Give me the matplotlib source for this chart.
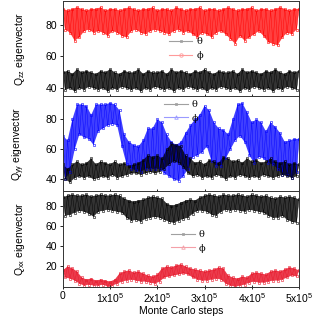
import numpy as np
import matplotlib
matplotlib.use("Agg")
import matplotlib.pyplot as plt
from matplotlib.lines import Line2D

plt.rcParams["font.family"] = "Liberation Sans"
plt.rcParams["mathtext.default"] = "regular"

# %%
# ---- data: upper / lower edge of each noisy band ----
# upper edge at 0, 1e4, ... 5e5 steps; lower edge at 5e3, 1.5e4, ... 4.95e5
steps = np.arange(0, 500001, 10000)

# Q_zz panel
zz_phi_hi = [90, 89, 90, 91, 90, 89, 90, 90, 91, 89, 90, 90, 89, 90, 91, 90, 89, 90,
             90, 91, 89, 90, 90, 89, 91, 90, 89, 90, 90, 91, 89, 90, 90, 89, 90, 91,
             90, 89, 90, 90, 91, 89, 90, 90, 89, 90, 91, 90, 89, 90, 90]
zz_phi_lo = [77, 75, 70, 72, 76, 77, 75, 76, 75, 73, 76, 75, 73, 72, 76, 77, 75, 74,
             76, 77, 76, 75, 74, 76, 77, 75, 76, 74, 72, 75, 74, 72, 75, 76, 74, 71,
             68, 73, 70, 72, 74, 76, 73, 69, 68, 67, 72, 75, 74, 77]
zz_theta_hi = [50, 51, 49, 52, 50, 51, 50, 49, 51, 50, 52, 50, 49, 51, 50, 50, 52, 49,
               51, 50, 50, 51, 49, 52, 50, 51, 50, 49, 51, 50, 52, 50, 49, 51, 50, 50,
               51, 49, 52, 50, 51, 50, 49, 51, 50, 52, 50, 49, 51, 50, 51]
zz_theta_lo = [39, 40, 38, 40, 39, 41, 40, 39, 40, 38, 40, 39, 41, 40, 39, 40, 38, 40,
               39, 41, 40, 39, 40, 38, 40, 39, 41, 40, 39, 40, 38, 40, 39, 41, 40, 39,
               40, 38, 40, 39, 41, 40, 39, 40, 38, 40, 39, 41, 40, 39]

# Q_yy panel
yy_phi_hi = [69, 66, 80, 90, 90, 89, 83, 90, 90, 90, 91, 90, 86, 70, 65, 63, 62, 66,
             74, 74, 80, 78, 70, 65, 63, 65, 71, 76, 80, 83, 89, 86, 78, 74, 73, 70,
             80, 90, 91, 85, 78, 80, 78, 72, 78, 75, 71, 65, 66, 67, 67]
yy_phi_lo = [40, 45, 60, 70, 68, 67, 63, 72, 74, 76, 77, 76, 62, 50, 47, 46, 45, 47,
             47, 47, 47, 44, 42, 40, 39, 42, 47, 55, 56, 58, 62, 52, 49, 49, 54, 60,
             66, 69, 65, 56, 51, 55, 54, 51, 50, 47, 43, 43, 41, 45]
yy_theta_hi = [50, 47, 50, 52, 50, 51, 54, 50, 52, 51, 50, 52, 50, 51, 49, 50, 51, 53,
               56, 55, 56, 54, 60, 64, 63, 62, 56, 54, 51, 52, 50, 53, 52, 51, 55, 54,
               52, 53, 51, 54, 52, 53, 51, 52, 54, 52, 51, 52, 50, 51, 50]
yy_theta_lo = [40, 38, 41, 42, 41, 42, 40, 41, 42, 41, 43, 41, 42, 43, 44, 44, 43, 44,
               45, 44, 45, 47, 50, 52, 51, 48, 44, 42, 43, 41, 42, 41, 43, 42, 40, 42,
               41, 43, 42, 41, 42, 41, 43, 42, 41, 42, 43, 42, 41, 42]

# Q_xx panel
xx_theta_hi = [88, 90, 91, 90, 90, 91, 89, 90, 91, 90, 90, 91, 90, 87, 85, 84, 85, 86,
               88, 89, 88, 87, 82, 80, 81, 83, 85, 86, 85, 88, 90, 91, 90, 89, 91, 90,
               90, 91, 90, 89, 91, 90, 89, 90, 88, 87, 89, 88, 89, 88, 86]
xx_theta_lo = [70, 71, 73, 75, 74, 72, 69, 74, 75, 76, 75, 74, 73, 68, 65, 66, 64, 67,
               68, 69, 68, 66, 64, 63, 65, 67, 68, 72, 75, 75, 74, 71, 70, 74, 76, 75,
               76, 75, 74, 76, 75, 74, 73, 70, 68, 68, 70, 66, 64, 63]
xx_phi_hi = [16, 20, 18, 15, 9, 7, 8, 6, 7, 6, 5, 7, 13, 15, 16, 14, 15, 13,
             11, 10, 12, 18, 20, 19, 21, 22, 20, 18, 17, 16, 15, 16, 17, 19, 18, 11,
             9, 8, 10, 9, 13, 14, 13, 12, 15, 16, 15, 17, 19, 18, 16]
xx_phi_lo = [9, 8, 6, 3, 1, 2, 1, 1, 2, 0, 1, 3, 5, 6, 7, 6, 5, 5,
             4, 3, 5, 9, 10, 11, 12, 13, 12, 9, 7, 6, 6, 7, 8, 7, 3, 1,
             0, 1, 2, 4, 5, 4, 4, 5, 6, 6, 7, 9, 11, 10]

xtick_vals = [0, 100000, 200000, 300000, 400000, 500000]
xtick_labels = ["0", "1x10$^5$", "2x10$^5$", "3x10$^5$", "4x10$^5$", "5x10$^5$"]


# %%
def band_series(hi, lo):
    """Put upper and lower edge readings in step order."""
    x = np.empty(len(hi) + len(lo))
    y = np.empty(len(hi) + len(lo))
    x[0::2] = steps
    x[1::2] = steps[:-1] + 5000
    y[0::2] = hi
    y[1::2] = lo
    return x, y


def draw(ax, hi, lo, color, marker, alpha=0.7):
    # shaded band between the edges, then the edge readings as open markers
    lo_x = steps[:-1] + 5000
    poly_x = np.concatenate([steps, lo_x[::-1]])
    poly_y = np.concatenate([hi, lo[::-1]])
    ax.fill(poly_x, poly_y, color=color, alpha=alpha, lw=0)
    x, y = band_series(hi, lo)
    ax.plot(x, y, color=color, lw=0.3, marker=marker, ms=2.0,
            mfc="none", mew=0.4)


def add_legend(ax, phi_color, phi_marker, anchor):
    handles = [
        Line2D([], [], color="#a0a0a0", lw=0.8, marker="s", ms=2, mfc="none", mew=0.6, label="θ"),
        Line2D([], [], color=phi_color, lw=0.8, marker=phi_marker, ms=2.5, mfc="none", mew=0.6, label="ϕ"),
    ]
    ax.legend(handles=handles, loc="center left", bbox_to_anchor=anchor,
              frameon=False, borderpad=0, borderaxespad=0, handlelength=2.4,
              handletextpad=0.4, labelspacing=0.5,
              prop={"family": "DejaVu Serif", "size": 7})


fig, axes = plt.subplots(3, 1, sharex=True, figsize=(3.16, 3.16), dpi=100)
fig.subplots_adjust(left=0.199, right=0.946, bottom=0.093, top=0.997, hspace=0)
ax1, ax2, ax3 = axes

draw(ax1, zz_phi_hi, zz_phi_lo, "#ff0000", "s", 0.75)
draw(ax1, zz_theta_hi, zz_theta_lo, "black", "s", 0.8)
ax1.set_ylim(35, 95)
ax1.set_yticks([40, 60, 80])
ax1.set_ylabel("Q$_{zz}$ eigenvector")
add_legend(ax1, "#ff9a9a", "o", (0.45, 0.50))

draw(ax2, yy_phi_hi, yy_phi_lo, "#0000ff", "s", 0.75)
draw(ax2, yy_theta_hi, yy_theta_lo, "black", "s", 0.8)
ax2.set_ylim(32, 95.5)
ax2.set_yticks([40, 60, 80])
ax2.set_ylabel("Q$_{yy}$ eigenvector")
add_legend(ax2, "#9a9aff", "^", (0.43, 0.84))

draw(ax3, xx_theta_hi, xx_theta_lo, "black", "s", 0.8)
draw(ax3, xx_phi_hi, xx_phi_lo, "#e8192c", "s", 0.85)
ax3.set_ylim(0, 94)
ax3.set_yticks([20, 40, 60, 80])
ax3.set_ylabel("Q$_{xx}$ eigenvector")
add_legend(ax3, "#f4a0a8", "^", (0.46, 0.475))

ax3.set_xlim(0, 500000)
ax3.set_xticks(xtick_vals)
ax3.set_xticklabels(xtick_labels)
ax3.set_xlabel("Monte Carlo steps", fontsize=7.5, labelpad=1)

for ax in axes:
    ax.tick_params(axis="both", labelsize=7.5, width=0.6, length=2.5, pad=1.5)
    ax.tick_params(axis="x", direction="inout", length=3)
    ax.yaxis.label.set_fontsize(7.5)
    ax.yaxis.set_label_coords(-0.153, 0.5)
    for s in ax.spines.values():
        s.set_linewidth(0.7)
        s.set_color("#333333")

fig.savefig("out.png", dpi=100)
